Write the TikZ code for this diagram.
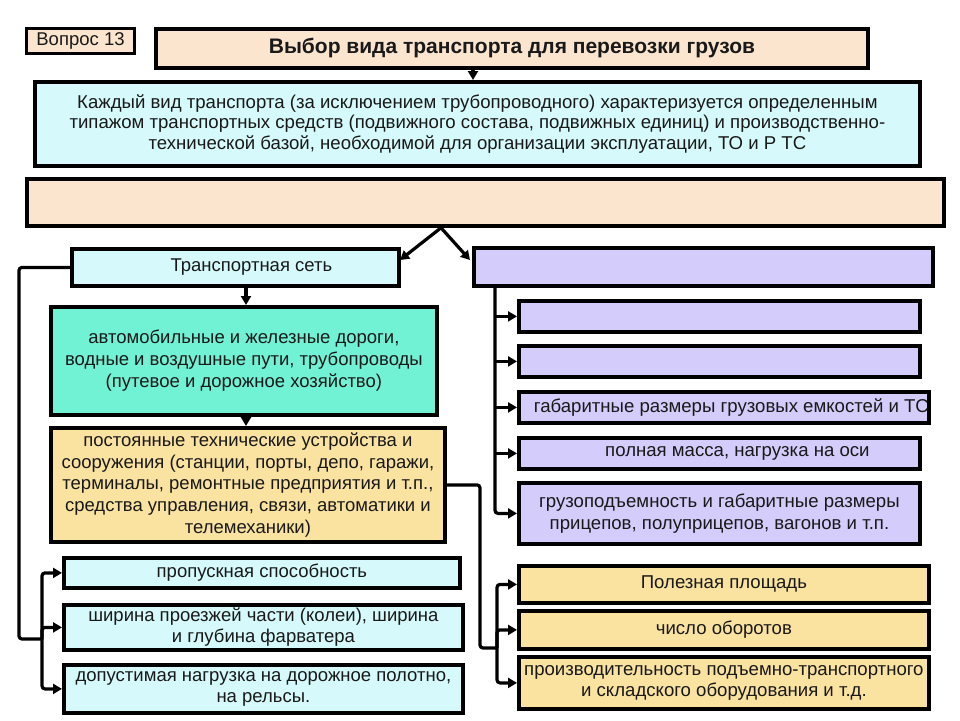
\documentclass[tikz,border=0pt]{standalone}
\usepackage{fontspec}
\setmainfont{Liberation Sans}
\usetikzlibrary{arrows.meta,calc}
\definecolor{peach}{HTML}{FCE5CF}
\definecolor{lcyan}{HTML}{D6FAFB}
\definecolor{aqua}{HTML}{72F2D4}
\definecolor{lyell}{HTML}{FAE3A0}
\definecolor{lav}{HTML}{D4CCFA}
\newcommand\bx[7]{\node[box,#2,anchor=north west,minimum width={(#5-#3)*1pt},minimum height={(#6-#4)*1pt}] (#1) at (#3,#4) {#7};}
\begin{document}
\begin{tikzpicture}[x=1pt,y=-1pt,
  box/.style={draw=black,line width=3.8pt,inner sep=0pt,align=center,text=black!90},
  conn/.style={line width=3.2pt,rounded corners=3pt},
  arr/.style={conn,-{Triangle[length=9pt,width=10pt]}},
  fa/.style={font=\fontsize{18.6}{21.5}\selectfont},
  fb/.style={font=\fontsize{18.5}{22}\selectfont},
  fc/.style={font=\fontsize{18.5}{21}\selectfont}]
\useasboundingbox (0,0) rectangle (960,720);
\fill[white] (0,0) rectangle (960,720);
% top
\bx{q}{fill=peach,line width=3pt,fc}{25}{27}{133}{52}{Вопрос 13}
\bx{title}{fill=peach,font=\fontsize{21}{24}\selectfont\bfseries}{154}{27}{866}{66}{Выбор вида транспорта для перевозки грузов}
\bx{info}{fill=lcyan,font=\fontsize{18.6}{20.5}\selectfont}{33}{80}{918}{164}{Каждый вид транспорта (за исключением трубопроводного) характеризуется определенным\\типажом транспортных средств (подвижного состава, подвижных единиц) и производственно-\\технической базой, необходимой для организации эксплуатации, ТО и Р ТС}
\bx{empty}{fill=peach}{25}{177}{942}{224}{}
% left column
\bx{net}{fill=lcyan,fc}{70}{247}{397}{284}{\hspace*{32pt}Транспортная сеть}
\bx{green}{fill=aqua,fb}{49}{305}{435}{413}{автомобильные и железные дороги,\\водные и воздушные пути, трубопроводы\\(путевое и дорожное хозяйство)}
\bx{yellow}{fill=lyell,font=\fontsize{18.5}{21.7}\selectfont}{49}{426}{443}{540}{постоянные технические устройства и\\сооружения (станции, порты, депо, гаражи,\\терминалы, ремонтные предприятия и т.п.,\\средства управления, связи, автоматики и\\телемеханики)}
\bx{L1}{fill=lcyan,fc}{62}{556}{458}{586}{пропускная способность}
\bx{L2}{fill=lcyan,fc}{62}{603}{461}{648}{ширина проезжей части (колеи), ширина\\и глубина фарватера}
\bx{L3}{fill=lcyan,fc}{62}{663}{461}{711}{допустимая нагрузка на дорожное полотно,\\на рельсы.}
% right column
\bx{veh}{fill=lav}{472}{246}{931}{284}{}
\bx{P1}{fill=lav}{517}{299}{918}{330}{}
\bx{P2}{fill=lav}{517}{344}{918}{375}{}
\bx{P3}{fill=lav,fa}{517}{390}{918}{421}{\hspace*{15pt}габаритные размеры грузовых емкостей и ТС}
\bx{P4}{fill=lav,fa}{517}{436}{918}{467}{\hspace*{36pt}полная масса, нагрузка на оси}
\bx{P5}{fill=lav,fa}{517}{481}{918}{542}{грузоподъемность и габаритные размеры\\прицепов, полуприцепов, вагонов и т.п.}
\bx{Y1}{fill=lyell,fa}{517}{564}{927}{601}{Полезная площадь}
\bx{Y2}{fill=lyell,fa}{517}{609}{927}{647}{число оборотов}
\bx{Y3}{fill=lyell,fa}{517}{655}{927}{707}{производительность подъемно-транспортного\\и складского оборудования и т.д.}
% connector coordinates
\coordinate (xt) at (473,0);
\coordinate (xa) at (441,0);
\coordinate (tl) at (400,260);
\coordinate (tr) at (470,260);
\coordinate (xn) at (246,0);
\coordinate (lc) at (19,639);
\coordinate (lb) at (42,639);
\coordinate (xv) at (495,0);
\coordinate (rc) at (480,648);
\coordinate (rb) at (497,648);
% connectors
\draw[arr] (title.south -| xt) -- (info.north -| xt);
\draw[arr] (empty.south -| xa) -- (tl);
\draw[arr] (empty.south -| xa) -- (tr);
\draw[arr] (net.south -| xn) -- (green.north -| xn);
\draw[arr] (green.south -| xn) -- (yellow.north -| xn);
\draw[conn] (net.west) -| (lc) -- (lb);
\draw[arr] (lb) |- (L1.west);
\draw[arr] (lb) -- (L2.west -| lb) -- (L2.west);
\draw[arr] (lb) |- (L3.west);
\draw[arr] (veh.south -| xv) |- (P5.west);
\draw[arr] (P1.west -| xv) -- (P1.west);
\draw[arr] (P2.west -| xv) -- (P2.west);
\draw[arr] (P3.west -| xv) -- (P3.west);
\draw[arr] (P4.west -| xv) -- (P4.west);
\draw[conn] (yellow.east) -| (rc) -- (rb);
\draw[arr] (rb) |- (Y1.west);
\draw[arr] (rb) -- (Y2.west -| rb) -- (Y2.west);
\draw[arr] (rb) |- (Y3.west);
\end{tikzpicture}
\end{document}
